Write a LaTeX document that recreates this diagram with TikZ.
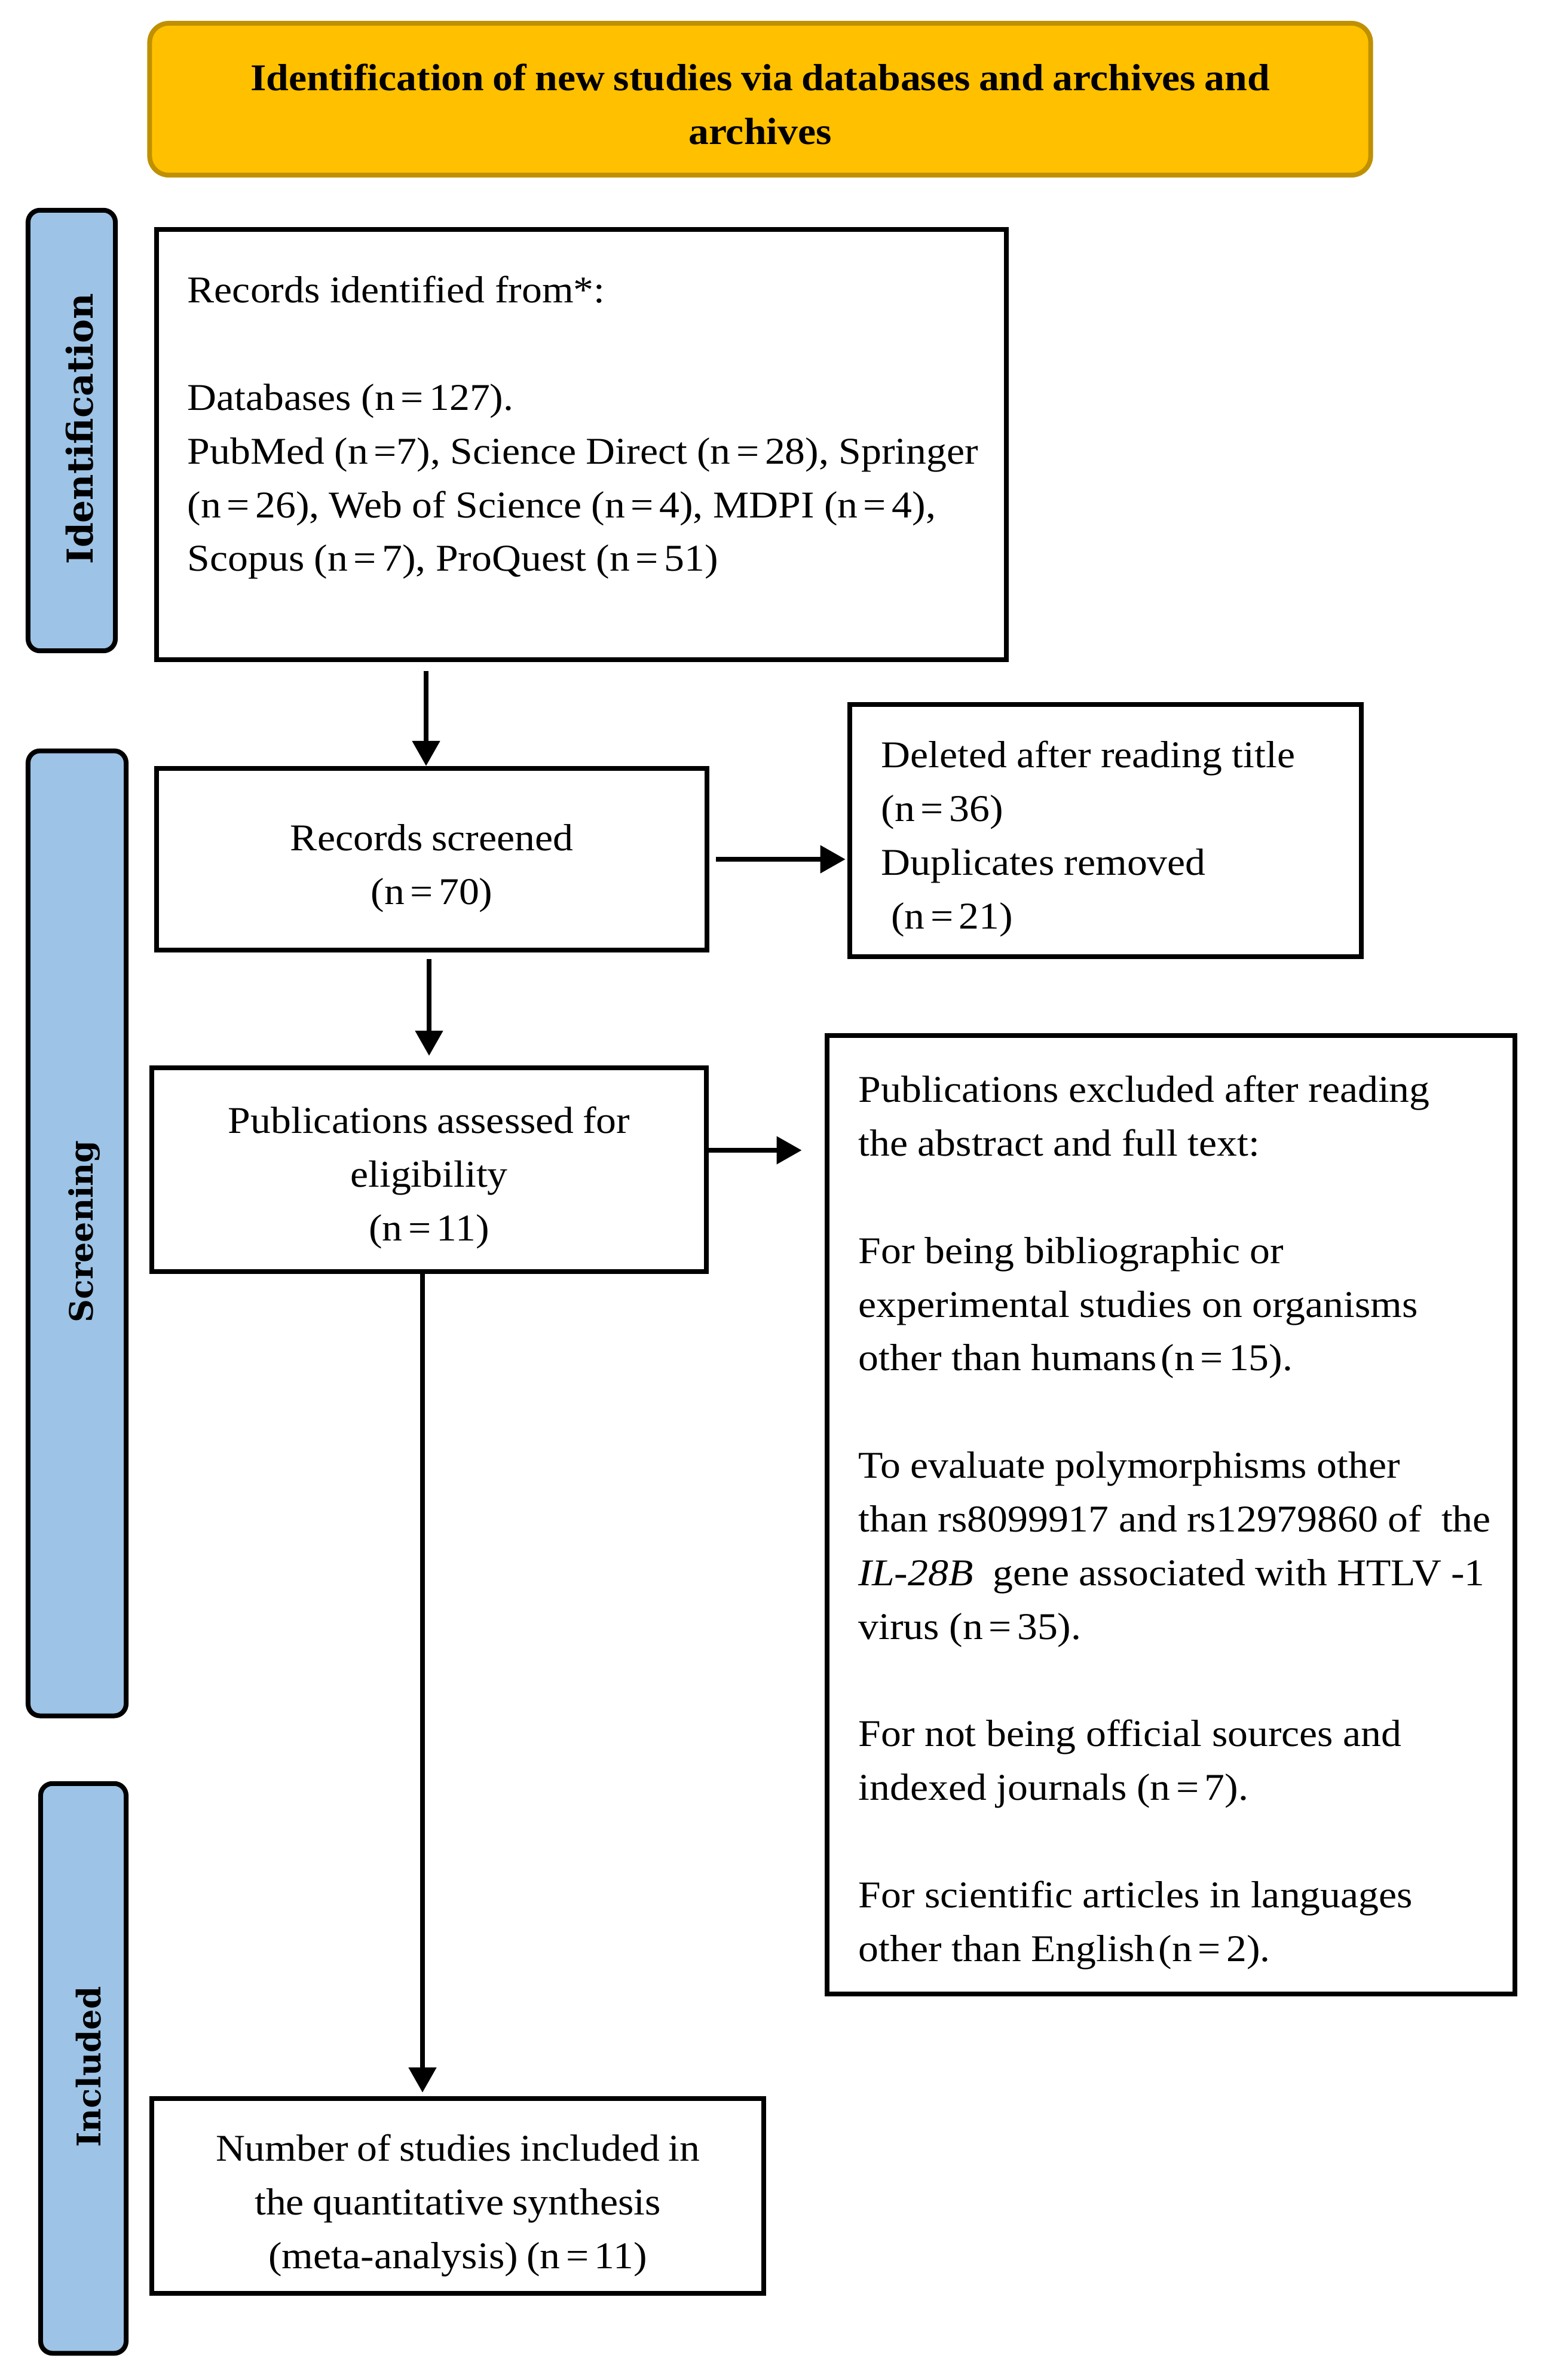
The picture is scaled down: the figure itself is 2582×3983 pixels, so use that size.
\documentclass[tikz,border=0pt]{standalone}
\usepackage{fontspec}
\setmainfont{Liberation Serif}[FakeStretch=1.07,WordSpace=0.85]
\newfontfamily\sidefont{DejaVu Serif}
\usetikzlibrary{arrows.meta}
\definecolor{bannerfill}{HTML}{FFC000}
\definecolor{bannerline}{HTML}{BF9000}
\definecolor{barfill}{HTML}{9DC3E6}
\newcommand\eqs{\hspace{0.15em}=\hspace{0.15em}}
\newcommand\fixsp{\spaceskip=0.26em\relax}
\begin{document}
\begin{tikzpicture}[x=0.01cm,y=-0.01cm,
  box/.style={draw=black, line width=0.08cm, fill=white, inner sep=0pt},
  bar/.style={draw=black, line width=0.08cm, fill=barfill, rounded corners=0.2cm, inner sep=0pt},
  banner/.style={draw=bannerline, line width=0.08cm, fill=bannerfill, rounded corners=0.32cm, inner sep=0pt},
  body/.style={font=\fontsize{18}{25.55}\selectfont, inner sep=0pt},
  lefttext/.style={body, align=left, anchor=north west, text width=#1},
  ctext/.style={body, align=center, anchor=north},
  sidelab/.style={font=\sidefont\bfseries\fontsize{#1}{20}\selectfont, rotate=90, anchor=base, inner sep=0pt},
  arr/.style={line width=0.08cm, -{Triangle[length=0.42cm,width=0.45cm]}},
]
\useasboundingbox (0,0) rectangle (2582,3983);

% banner
\node[banner, minimum width=20.42cm, minimum height=2.54cm] (ban) at (1272,166) {};
\node[ctext, font=\bfseries\fontsize{18}{25.55}\selectfont] (tban) at (1272,88)
  {\strut Identification of new studies via databases and archives and\\archives};

% side bars
\node[bar, minimum width=1.46cm, minimum height=7.37cm] (bar1) at (120,720.5) {};
\node[bar, minimum width=1.64cm, minimum height=16.14cm] (bar2) at (129,2064) {};
\node[bar, minimum width=1.43cm, minimum height=9.53cm] (bar3) at (139.5,3461.5) {};
\node[sidelab=17] (l1) at (155,718) {Identification};
\node[sidelab=15.3] (l2) at (155,2061) {Screening};
\node[sidelab=15.5] (l3) at (168,3459) {Included};

% boxes
\node[box, minimum width=14.22cm, minimum height=7.20cm] (b1) at (973,744) {};
\node[box, minimum width=9.21cm, minimum height=3.04cm] (b2) at (722.5,1438) {};
\node[box, minimum width=8.56cm, minimum height=4.22cm] (b3) at (1850,1390) {};
\node[box, minimum width=9.28cm, minimum height=3.41cm] (b4) at (718,1957.5) {};
\node[box, minimum width=11.51cm, minimum height=16.03cm] (b5) at (1959.5,2534.5) {};
\node[box, minimum width=10.24cm, minimum height=3.26cm] (b6) at (766,3675) {};

% texts
\node[lefttext=14cm] (t1) at (313,443) {\fixsp\strut Records identified from*:\\[25.55pt]
Databases (n\eqs127).\\
PubMed (n\hspace{0.15em}=7), Science Direct (n\eqs28), Springer\\
(n\eqs26), Web of Science (n\eqs4), MDPI (n\eqs4),\\
Scopus (n\eqs7), ProQuest (n\eqs51)};

\node[ctext] (t2) at (722.5,1360) {\strut Records screened\\(n\eqs70)};

\node[lefttext=9cm] (t3) at (1474,1221) {\fixsp\strut Deleted after reading title\\(n\eqs36)\\Duplicates removed\\\hspace{0.26em}(n\eqs21)};

\node[ctext] (t4) at (718,1833) {\strut Publications assessed for\\eligibility\\(n\eqs11)};

\node[lefttext=11.2cm] (t5) at (1436,1781) {\fixsp\strut Publications excluded after reading\\
the abstract and full text:\\[25.55pt]
For being bibliographic or\\
experimental studies on organisms\\
other than humans\hspace{0.1em}(n\eqs15).\\[25.55pt]
To evaluate polymorphisms other\\
than rs8099917 and rs12979860 of\hspace{0.52em}the\\
\textit{IL-28B}\hspace{0.52em}gene associated with HTLV -1\\
virus (n\eqs35).\\[25.55pt]
For not being official sources and\\
indexed journals (n\eqs7).\\[25.55pt]
For scientific articles in languages\\
other than English\hspace{0.1em}(n\eqs2).};

\node[ctext] (t6) at (766,3553) {\strut Number of studies included in\\the quantitative synthesis\\(meta-analysis) (n\eqs11)};

% arrows
\draw[arr, shorten <=0.15cm] ([xshift=-0.095cm]b2.north |- b1.south) -- ([xshift=-0.095cm]b2.north);
\draw[arr, shorten <=0.11cm, shorten >=0.03cm] (b2.east) -- (b2.east -| b3.west);
\draw[arr, shorten <=0.11cm, shorten >=0.16cm] (b4.north |- b2.south) -- (b4.north);
\draw[arr, shorten >=0.38cm] ([yshift=0.325cm]b4.east) -- ([yshift=0.325cm]b4.east -| b5.west);
\draw[arr, shorten >=0.06cm] ([xshift=-0.11cm]b4.south) -- ([xshift=-0.11cm]b4.south |- b6.north);
\end{tikzpicture}
\end{document}
